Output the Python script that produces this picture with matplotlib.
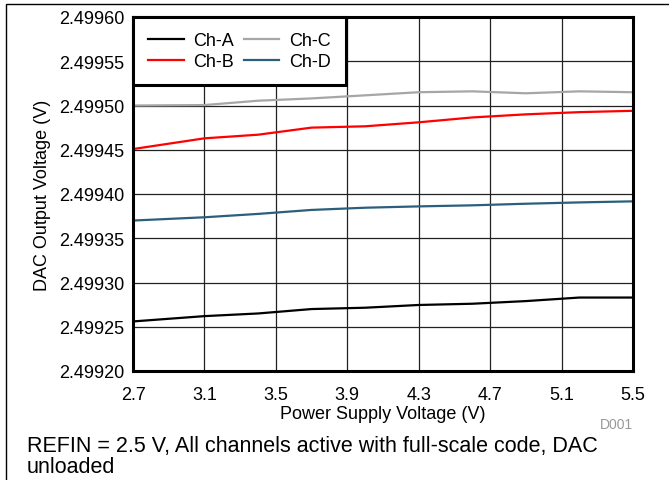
import matplotlib
matplotlib.use("Agg")
import matplotlib.pyplot as plt
from matplotlib.patches import Rectangle

plt.rcParams["font.family"] = ["Liberation Sans", "DejaVu Sans"]

# supply voltage sweep (V)
vdd = [2.7, 3.1, 3.4, 3.7, 4.0, 4.3, 4.6, 4.9, 5.2, 5.5]

# DAC output voltage per channel (V)
ch_a = [2.499256, 2.499262, 2.499265, 2.499270, 2.4992715, 2.4992746,
        2.499276, 2.499279, 2.499283, 2.499283]
ch_b = [2.4994508, 2.4994629, 2.499467, 2.499475, 2.4994765, 2.499481,
        2.4994865, 2.499490, 2.4994925, 2.499494]
ch_c = [2.499500, 2.4995005, 2.4995054, 2.499508, 2.4995115, 2.499515,
        2.499516, 2.4995138, 2.499516, 2.499515]
ch_d = [2.499370, 2.4993737, 2.4993775, 2.499382, 2.4993845, 2.499386,
        2.4993872, 2.499389, 2.4993905, 2.4993917]

xticks = [2.7, 3.1, 3.5, 3.9, 4.3, 4.7, 5.1, 5.5]
yticks = [2.49920, 2.49925, 2.49930, 2.49935, 2.49940, 2.49945,
          2.49950, 2.49955, 2.49960]

fig = plt.figure(figsize=(6.69, 4.81), dpi=100)
ax = fig.add_axes([133 / 669, 1 - 372 / 481, 500 / 669, 354 / 481])

ax.plot(vdd, ch_a, color="black", lw=1.6, label="Ch-A")
ax.plot(vdd, ch_b, color="#ff0000", lw=1.6, label="Ch-B")
ax.plot(vdd, ch_c, color="#a6a6a6", lw=1.6, label="Ch-C")
ax.plot(vdd, ch_d, color="#2b5f7c", lw=1.6, label="Ch-D")

ax.set_xlim(2.7, 5.5)
ax.set_ylim(2.49920, 2.49960)
ax.set_xticks(xticks)
ax.set_xticklabels([f"{v:.1f}" for v in xticks])
ax.set_yticks(yticks)
ax.set_yticklabels([f"{v:.5f}" for v in yticks])
ax.tick_params(length=0, labelsize=13)
ax.tick_params(axis="x", pad=10.5)
ax.tick_params(axis="y", pad=6)
ax.grid(True, color="#222222", lw=0.9)
ax.set_axisbelow(True)
for s in ax.spines.values():
    s.set_linewidth(2.2)

ax.set_xlabel("Power Supply Voltage (V)", fontsize=13, labelpad=2)
ax.set_ylabel("DAC Output Voltage (V)", fontsize=13, labelpad=6)

leg = ax.legend(loc="upper left", ncol=2, fontsize=13, frameon=True,
                fancybox=False, borderaxespad=0, handlelength=1.95,
                columnspacing=0.55, handletextpad=0.55, borderpad=0.85,
                labelspacing=0.2)
leg.get_frame().set_edgecolor("black")
leg.get_frame().set_linewidth(2.2)
leg.get_frame().set_alpha(1)

fig.text(616 / 669, 1 - 425 / 481, "D001", ha="center", va="center",
         fontsize=10, color="#999999")
fig.text(27 / 669, 1 - 457 / 481,
         "REFIN = 2.5 V, All channels active with full-scale code, DAC\nunloaded",
         ha="left", va="center", fontsize=15.5, linespacing=1.0)

# outer frame around the whole figure
fig.patches.append(Rectangle((6 / 669, -0.1), 1.1, 1.1 - 5 / 481,
                             transform=fig.transFigure, fill=False,
                             edgecolor="black", lw=1))

fig.savefig("out.png", dpi=100)
